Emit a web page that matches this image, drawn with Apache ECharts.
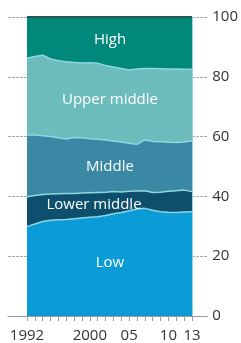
<!DOCTYPE html>
<html>
<head>
<meta charset="utf-8">
<script src="https://cdn.jsdelivr.net/npm/echarts@6/dist/echarts.min.js"></script>
<style>
  html, body { margin: 0; padding: 0; background: #fff; }
  #chart { width: 241px; height: 343px; }
</style>
</head>
<body>
<div id="chart"></div>
<script>
// years 1992-2013
var years = ['1992', '1993', '1994', '1995', '1996', '1997', '1998', '1999', '2000', '2001', '2002',
  '2003', '2004', '2005', '2006', '2007', '2008', '2009', '2010', '2011', '2012', '2013']
var yearLabels = { '1992': '1992', '2000': '2000', '2005': '05', '2010': '10', '2013': '13' }

// share of each income band, %
var low = [29.9, 30.8, 31.6, 32.0, 32.2, 32.3, 32.5, 32.8, 33.0, 33.2, 33.6,
  34.2, 34.6, 35.2, 35.8, 36.0, 35.4, 34.9, 34.7, 34.6, 34.8, 34.9]
var lowerMiddle = [10.0, 9.5, 9.0, 8.8, 8.7, 8.7, 8.5, 8.3, 8.2, 8.1, 7.8,
  7.4, 6.9, 6.5, 6.0, 5.9, 5.9, 6.5, 7.0, 7.3, 7.3, 6.7]
var middle = [20.6, 20.2, 19.7, 19.2, 18.7, 18.2, 18.7, 18.5, 18.1, 17.8, 17.5,
  16.9, 16.7, 16.1, 15.6, 17.0, 17.1, 16.9, 16.4, 16.1, 16.1, 17.0]
var upperMiddle = [25.7, 26.3, 26.9, 26.0, 25.8, 25.8, 25.1, 25.0, 25.4, 25.4, 24.9,
  24.8, 24.6, 24.5, 25.2, 23.9, 24.4, 24.4, 24.5, 24.6, 24.3, 23.9]
var high = [13.8, 13.2, 12.8, 14.0, 14.6, 15.0, 15.2, 15.4, 15.3, 15.5, 16.2,
  16.7, 17.2, 17.7, 17.4, 17.2, 17.2, 17.3, 17.4, 17.4, 17.5, 17.5]

var chart = echarts.init(document.getElementById('chart'))

var font = 'Open Sans'
var edge = '#8fd6e4'

function band(name, data, color, idx, lineColor, lineWidth) {
  return {
    name: name,
    type: 'line',
    xAxisIndex: 1,
    yAxisIndex: 1,
    stack: 'total',
    data: data,
    showSymbol: false,
    silent: true,
    z: 10 - idx,
    lineStyle: { color: lineColor || edge, width: lineWidth || 1.5 },
    areaStyle: { color: color, opacity: 1 }
  }
}

var series = [
  band('Low', low, '#0b9bd6', 0),
  band('Lower middle', lowerMiddle, '#0d4f6c', 1),
  band('Middle', middle, '#3b88a4', 2),
  band('Upper middle', upperMiddle, '#6dbcbc', 3),
  band('High', high, '#00897b', 4, '#1d5c57', 2)
]
series[0].markLine = {
  silent: true,
  symbol: 'none',
  label: { show: false },
  lineStyle: { color: edge, width: 1, type: 'solid' },
  data: [{ xAxis: '2013' }]
}

// band names drawn as text on top of the areas
function tag(text, x, y) {
  return {
    type: 'text', x: x, y: y, z: 100,
    style: { text: text, fill: '#fff', font: '15px "Open Sans"', align: 'center', verticalAlign: 'middle' }
  }
}

chart.setOption({
  animation: false,
  grid: [
    { left: 8, right: 31, top: 17, bottom: 27 },
    { left: 27, right: 49, top: 17, bottom: 27 }
  ],
  xAxis: [
    {
      gridIndex: 0,
      type: 'value',
      min: 0,
      max: 1,
      axisLine: { show: true, lineStyle: { color: '#9a9a9a', width: 1 } },
      axisTick: { show: false },
      axisLabel: { show: false },
      splitLine: { show: false }
    },
    {
      gridIndex: 1,
      type: 'category',
      data: years,
      boundaryGap: false,
      axisLine: { show: false },
      axisTick: { show: true, interval: 0, length: 5, lineStyle: { color: '#9a9a9a' } },
      axisLabel: {
        interval: 0,
        margin: 12,
        color: '#333',
        fontFamily: font,
        fontSize: 15,
        formatter: function (v) { return yearLabels[v] || '' }
      },
      splitLine: { show: false }
    }
  ],
  yAxis: [
    {
      gridIndex: 0,
      type: 'value',
      position: 'right',
      min: 0,
      max: 100,
      interval: 20,
      axisLine: { show: false },
      axisTick: { show: false },
      axisLabel: { color: '#333', fontFamily: font, fontSize: 15, margin: 5 },
      splitLine: { lineStyle: { color: '#aaa', width: 1, type: [3, 1] } }
    },
    {
      gridIndex: 1,
      type: 'value',
      min: 0,
      max: 100,
      show: false
    }
  ],
  graphic: [
    tag('High', 110, 40),
    tag('Upper middle', 110, 100),
    tag('Middle', 110, 167),
    tag('Lower middle', 94, 205),
    tag('Low', 110, 263)
  ],
  series: series
})
</script>
</body>
</html>
